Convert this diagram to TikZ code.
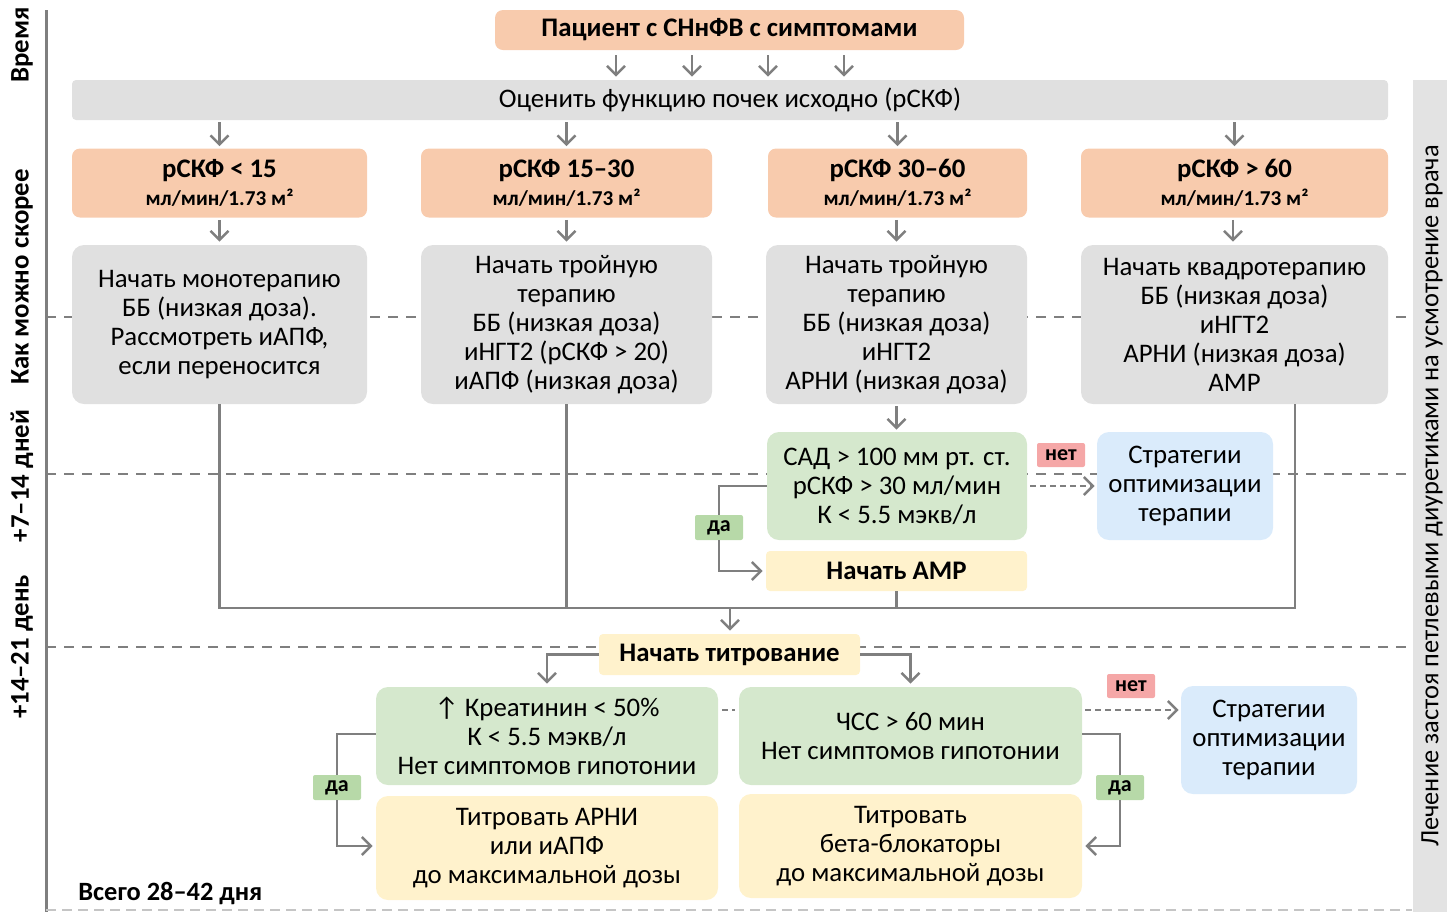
\documentclass[tikz,border=0pt]{standalone}
\usepackage{fontspec}
\setmainfont{Carlito}
\usetikzlibrary{arrows.meta,calc}
\definecolor{peach}{HTML}{F8CBAD}
\definecolor{lgray}{HTML}{E0E0E0}
\definecolor{lgreen}{HTML}{D5E8CD}
\definecolor{lyellow}{HTML}{FFF2CC}
\definecolor{lblue}{HTML}{DAEBFB}
\definecolor{redlab}{HTML}{F5A7A7}
\definecolor{greenlab}{HTML}{B7D9A8}
\definecolor{linegray}{HTML}{7F7F7F}
\definecolor{panelgray}{HTML}{E3E3E3}
\newcommand{\egfr}[1]{{\fontsize{13.4}{12.5}\selectfont\bfseries #1}\\[-0.5pt]{\fontsize{10.6}{11}\selectfont\bfseries мл/мин/1.73 м²}}
\begin{document}
\begin{tikzpicture}[x=0.5pt,y=-0.5pt,
  sz/.style 2 args={minimum width={#1*0.5pt}, minimum height={#2*0.5pt}},
  base/.style={rounded corners=4pt, align=center, inner sep=0pt, text=black,
    font=\fontsize{13.4}{14.5}\selectfont},
  boldtxt/.style={font=\fontsize{13.4}{14.5}\selectfont\bfseries},
  peachbox/.style={base, fill=peach},
  graybox/.style={base, fill=lgray},
  greenbox/.style={base, fill=lgreen},
  yellowbox/.style={base, fill=lyellow},
  bluebox/.style={base, fill=lblue},
  netlab/.style={base, rounded corners=1pt, fill=redlab, font=\fontsize{11}{12}\selectfont\bfseries, sz={48}{24}},
  dalab/.style={base, rounded corners=1pt, fill=greenlab, font=\fontsize{11}{12}\selectfont\bfseries, sz={48}{25}},
  timelab/.style={rotate=90, inner sep=0pt, font=\fontsize{13.4}{14}\selectfont\bfseries},
  conn/.style={draw=linegray, line width=1.2pt},
  arr/.style={conn, -{Straight Barb[length=4.5pt, width=9pt, line width=1.2pt]}},
  dasharr/.style={arr, dash pattern=on 3pt off 2pt},
  timeline/.style={draw=linegray, line width=1.2pt, dash pattern=on 5pt off 4pt},
]
\useasboundingbox (0,0) rectangle (1447,912);

% right panel
\fill[panelgray] (1413,80) rectangle (1447,912);
\node[rotate=90, inner sep=0pt, font=\fontsize{13.2}{14}\selectfont] (diur) at (1432,496)
  {Лечение застоя петлевыми диуретиками на усмотрение врача};

% time axis
\draw[draw=linegray, line width=1.5pt] (46,10) -- (46,912);
\node[timelab] (tv) at (22,45) {Время};
\node[timelab] (tk) at (22,277) {Как можно скорее};
\node[timelab] (t7) at (22,476) {+7–14 дней};
\node[timelab] (t14) at (22,647) {+14–21 день};

% dashed time separators
\draw[timeline] (46,317) -- (1412,317);
\draw[timeline] (46,474) -- (1412,474);
\draw[timeline] (46,647) -- (1412,647);
\draw[draw=linegray!45, line width=1pt, dash pattern=on 5pt off 3pt] (46,910) -- (1412,910);

% top
\node[peachbox, sz={469}{40}, boldtxt] (patient) at (729.5,30) {Пациент с СНнФВ с симптомами};
\node[graybox, rounded corners=2pt, sz={1316}{40}] (eval) at (730,100) {Оценить функцию почек исходно (рСКФ)};

% eGFR boxes
\node[peachbox, sz={295}{69}] (e1) at (219.5,183) {\egfr{рСКФ < 15}};
\node[peachbox, sz={291}{69}] (e2) at (566.5,183) {\egfr{рСКФ 15–30}};
\node[peachbox, sz={259}{69}] (e3) at (897.5,183) {\egfr{рСКФ 30–60}};
\node[peachbox, sz={307}{69}] (e4) at (1234.5,183) {\egfr{рСКФ > 60}};

% therapy boxes
\node[graybox, rounded corners=6pt, sz={295}{159}] (t1) at (219.5,324.5) {Начать монотерапию\\ББ (низкая доза).\\Рассмотреть иАПФ,\\если переносится};
\node[graybox, rounded corners=6pt, sz={291}{159}] (t2) at (566.5,324.5) {Начать тройную\\терапию\\ББ (низкая доза)\\иНГТ2 (рСКФ > 20)\\иАПФ (низкая доза)};
\node[graybox, rounded corners=6pt, sz={261}{159}] (t3) at (896.5,324.5) {Начать тройную\\терапию\\ББ (низкая доза)\\иНГТ2\\АРНИ (низкая доза)};
\node[graybox, rounded corners=6pt, sz={307}{159}] (t4) at (1234.5,324.5) {Начать квадротерапию\\ББ (низкая доза)\\иНГТ2\\АРНИ (низкая доза)\\АМР};

% second stage
\node[greenbox, rounded corners=6pt, sz={260}{108}] (sad) at (897,486) {САД > 100 мм рт. ст.\\рСКФ > 30 мл/мин\\К < 5.5 мэкв/л};
\node[bluebox, rounded corners=6pt, sz={176}{108}] (b1) at (1185,486) {Стратегии\\оптимизации\\терапии};
\node[netlab] (net1) at (1061,455) {нет};
\node[dalab] (da1) at (719,527.5) {да};
\node[yellowbox, rounded corners=2pt, sz={261}{40}, boldtxt] (amr) at (896.5,571) {Начать АМР};

% titration
\node[yellowbox, rounded corners=2pt, sz={261}{41}, boldtxt] (tit) at (729.5,654.5) {Начать титрование};
\node[greenbox, rounded corners=6pt, sz={342}{98}] (g1) at (547,736) {↑ Креатинин < 50\%\\К < 5.5 мэкв/л\\Нет симптомов гипотонии};
\node[greenbox, rounded corners=6pt, sz={343}{98}] (g2) at (910.5,736) {ЧСС > 60 мин\\Нет симптомов гипотонии};
\node[bluebox, rounded corners=6pt, sz={176}{108}] (b2) at (1269,740) {Стратегии\\оптимизации\\терапии};
\node[netlab] (net2) at (1131,686) {нет};
\node[yellowbox, rounded corners=6pt, sz={342}{104}] (y1) at (547,848) {Титровать АРНИ\\или иАПФ\\до максимальной дозы};
\node[yellowbox, rounded corners=6pt, sz={343}{104}] (y2) at (910.5,846) {Титровать\\бета-блокаторы\\до максимальной дозы};
\node[dalab] (da2) at (337,787.5) {да};
\node[dalab] (da3) at (1120,787.5) {да};

\node[anchor=west, inner sep=0pt, font=\fontsize{13.2}{14}\selectfont\bfseries] (total) at (78,893) {Всего 28–42 дня};

% connectors: patient -> eval
\foreach \xx in {616,692,768,844}{
  \draw[arr, shorten <=2.5pt, shorten >=1.5pt] (patient.south -| \xx,0) -- (eval.north -| \xx,0);
}
% eval -> egfr
\foreach \n in {e1,e2,e3,e4}{
  \draw[arr, shorten <=1pt, shorten >=1pt] (eval.south -| \n) -- (\n.north);
}
% egfr -> therapy
\draw[arr, shorten <=1pt, shorten >=1.5pt] (e1.south) -- (e1.south |- t1.north);
\draw[arr, shorten <=1pt, shorten >=1.5pt] (e2.south) -- (e2.south |- t2.north);
\draw[arr, shorten <=1pt, shorten >=1.5pt] (e3.south -| t3) -- (t3.north);
\draw[arr, shorten <=1pt, shorten >=1.5pt] (e4.south -| 1233,0) -- (t4.north -| 1233,0);
% therapy 3 -> sad
\draw[arr, shorten <=1pt, shorten >=1pt] (t3.south) -- (sad.north -| t3.south);
% sad -> blue (no)
\draw[dasharr, shorten <=1.5pt, shorten >=1pt] (sad.east) -- (b1.west);
% sad -> amr (yes)
\draw[conn] (sad.west) -| (da1.north);
\draw[arr, shorten >=1.5pt] (da1.south) |- (amr.west);
% merge
\coordinate (merge) at (730,608);
\draw[conn] (t1.south) |- (merge);
\draw[conn] (t2.south) -- (t2.south |- merge);
\draw[conn] (amr.south) -- (amr.south |- merge);
\draw[conn] ($(t4.south)+(60.5,0)$) |- (merge);
\draw[arr, shorten >=1.5pt] (merge) -- (tit.north -| merge);
% titration branches
\draw[arr, shorten >=1.5pt] (tit.west) -| (g1.north);
\draw[arr, shorten >=1.5pt] (tit.east) -| (g2.north);
\coordinate (g1e) at (g1.east |- 0,710);
\draw[conn, dash pattern=on 3pt off 2pt, shorten <=2pt, shorten >=2pt] (g1e) -- (g1e -| g2.west);
\coordinate (g2e) at (g2.east |- 0,710);
\draw[dasharr, shorten <=1.5pt, shorten >=1pt] (g2e) -- (g2e -| b2.west);
\draw[conn] (g1.west |- 0,734) -| (da2.north);
\draw[arr, shorten >=1.5pt] (da2.south) |- (y1.west |- 0,846);
\draw[conn] (g2.east |- 0,734) -| (da3.north);
\draw[arr, shorten >=1.5pt] (da3.south) |- (y2.east);
\end{tikzpicture}
\end{document}
